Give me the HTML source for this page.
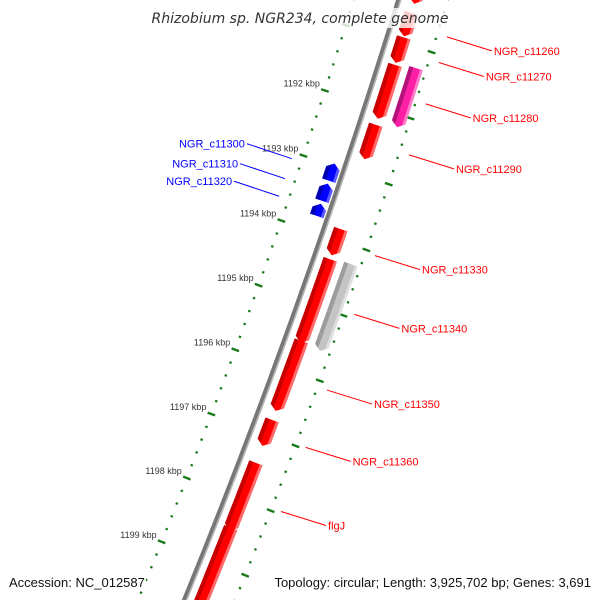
<!DOCTYPE html>
<html><head><meta charset="utf-8"><title>Rhizobium sp. NGR234 genome map</title>
<style>
html,body{margin:0;padding:0;background:#fff;overflow:hidden;width:600px;height:600px;}
svg{display:block;overflow:hidden;font-family:"Liberation Sans",sans-serif;}
</style></head>
<body>
<svg id="map" width="600" height="600" viewBox="0 0 600 600" xmlns="http://www.w3.org/2000/svg">
<rect width="600" height="600" fill="#fff"/>
<g id="ticks"></g>
<g id="backbone"></g>
<g id="genes"></g>
<g id="labels"></g>
<g>
<rect x="150" y="8" width="300" height="20" fill="#fff" fill-opacity="0.8"/>
<text x="300" y="23" text-anchor="middle" font-size="14" font-style="italic" fill="#333" style="font-family:'DejaVu Sans',sans-serif">Rhizobium sp. NGR234, complete genome</text>
</g>
<g>
<rect x="6" y="570" width="140" height="20" fill="#fff" fill-opacity="0.8"/>
<text x="9" y="587" font-size="13" fill="#111">Accession: NC_012587</text>
<rect x="258" y="570" width="336" height="20" fill="#fff" fill-opacity="0.8"/>
<text x="591" y="587" text-anchor="end" font-size="13" fill="#111">Topology: circular; Length: 3,925,702 bp; Genes: 3,691</text>
</g>
</svg>
<script>
// ---- data ----
const tickStartKbp = 1189;
const tickEndKbp = 1201;
const tickLabelKbp = [1192, 1193, 1194, 1195, 1196, 1197, 1198, 1199];
const geneStarts = [1190000, 1190547, 1190918, 1191335, 1192245, 1191288, 1192965, 1193273, 1193582, 1193836, 1194299, 1195550, 1194268, 1196770, 1197433, 1198437];
const geneEnds   = [1190408, 1190902, 1191304, 1192153, 1192770, 1192183, 1193227, 1193536, 1193768, 1194237, 1195581, 1196630, 1195596, 1197170, 1198483, 1200300];
const geneTypes  = ['red','red','red','red','red','pink','blue','blue','blue','red','red','red','gray','red','red','red'];
const labelNames = ['NGR_c11260','NGR_c11270','NGR_c11280','NGR_c11290','NGR_c11300','NGR_c11310','NGR_c11320','NGR_c11330','NGR_c11340','NGR_c11350','NGR_c11360','flgJ'];
const labelGene  = [1, 2, 5, 4, 6, 7, 8, 9, 12, 11, 13, 14];

// ---- geometry ----
const NS = 'http://www.w3.org/2000/svg';
const CX = -6523.5, CY = -2132, TH0 = 0.34714, K = 0.009524e-3, BP0 = 1195500;
function pt(bp, r){ const t = TH0 + (bp - BP0) * K; return [CX + r*Math.cos(t), CY + r*Math.sin(t)]; }
function mk(tag, attrs, parent){ const e = document.createElementNS(NS, tag); for (const k in attrs) e.setAttribute(k, attrs[k]); parent.appendChild(e); return e; }
function arcPath(b0, b1, r){ const a = pt(b0, r), b = pt(b1, r); return 'M' + a[0].toFixed(2) + ',' + a[1].toFixed(2) + ' A' + r + ',' + r + ' 0 0 1 ' + b[0].toFixed(2) + ',' + b[1].toFixed(2); }

// ---- ticks ----
const tg = document.getElementById('ticks');
[7200, 7290].forEach(function(R){
  for (let bp = tickStartKbp*1000; bp <= tickEndKbp*1000; bp += 200) {
    const major = bp % 1000 === 0;
    const d = major ? 4 : 1.2;
    const a = pt(bp, R - d), b = pt(bp, R + d);
    const e = mk('line', {x1:a[0], y1:a[1], x2:b[0], y2:b[1], stroke:'#1a7a1a', 'stroke-width': major ? 2.4 : 2.2}, tg);
    
    
  }
});
tickLabelKbp.forEach(function(k){
  const p = pt(k*1000, 7200);
  const t = mk('text', {x:p[0]-5, y:p[1]-4, 'text-anchor':'end', 'font-size':9, fill:'#333'}, tg);
  t.textContent = k + ' kbp';
  
  
});

// ---- backbone ----
const bg = document.getElementById('backbone');
const bb1 = mk('path', {d:arcPath(1188000, 1202000, 7243), fill:'none', stroke:'#777', 'stroke-width':5}, bg);


const bb2 = mk('path', {d:arcPath(1188000, 1202000, 7245), fill:'none', stroke:'#b8b8b8', 'stroke-width':1.6}, bg);



// ---- genes ----
const slots = {red:[7252,7266,1], pink:[7273,7287,1], gray:[7273,7287,1], blue:[7225,7239,-1]};
const palettes = {
  red:  ['#c80000','#ff0000','#ff6a6a'],
  pink: ['#b3127a','#ff1fa5','#ff7cc8'],
  gray: ['#9c9c9c','#c4c4c4','#dedede'],
  blue: ['#0000b0','#0000ff','#5a5aff']
};
const HEAD = 75;
function geneShape(s, e, dir, r0, r1, ra, rb){
  const rm = (r0 + r1) / 2, h = (r1 - r0) / 2;
  const len = Math.abs(e - s), hd = Math.min(HEAD, len * 0.5);
  const tip = dir > 0 ? e : s, tail = dir > 0 ? s : e;
  const headBase = tip - dir * hd;
  function bnd(r){ return headBase + dir * hd * (1 - Math.abs(r - rm) / h); }
  const pts = [];
  const N = 12;
  for (let i = 0; i <= N; i++) pts.push(pt(tail + (bnd(ra) - tail) * i / N, ra));
  const rs = [ra]; if (ra < rm && rb > rm) rs.push(rm); rs.push(rb);
  for (let j = 1; j < rs.length; j++) pts.push(pt(bnd(rs[j]), rs[j]));
  for (let i = N; i >= 0; i--) pts.push(pt(tail + (bnd(rb) - tail) * i / N, rb));
  return pts.map(p => p[0].toFixed(2) + ',' + p[1].toFixed(2)).join(' ');
}
const gg = document.getElementById('genes');
geneStarts.forEach(function(s, i){
  const e = geneEnds[i], type = geneTypes[i], sl = slots[type], pal = palettes[type];
  const r0 = sl[0], r1 = sl[1], dir = sl[2];
  const g = mk('g', {}, gg);
  
  
  const w = r1 - r0;
  const bands = [[r0, r1, pal[1]], [r0, r0 + w*0.3, pal[0]], [r1 - w*0.2, r1, pal[2]]];
  bands.forEach(function(b){
    const p = mk('polygon', {points:geneShape(s, e, dir, r0, r1, b[0], b[1]), fill:b[2]}, g);
    
    
  });
});

// ---- labels ----
const lg = document.getElementById('labels');
labelNames.forEach(function(name, i){
  const gi = labelGene[i], type = geneTypes[gi];
  const mid = (geneStarts[gi] + geneEnds[gi]) / 2;
  const inner = type === 'blue';
  const col = inner ? '#0000ff' : '#ff0000';
  const p = pt(mid, inner ? 7190 : 7300);
  const q = inner ? [p[0] - 45, p[1] - 15] : [p[0] + 45, p[1] + 14];
  const ln = mk('line', {x1:p[0], y1:p[1], x2:q[0], y2:q[1], stroke:col, 'stroke-width':1}, lg);
  
  
  const t = mk('text', {x: inner ? q[0] - 2 : q[0] + 2, y: q[1] + 4, 'text-anchor': inner ? 'end' : 'start', 'font-size':11, fill:col}, lg);
  t.textContent = name;
  
  
});
</script>
</body></html>
